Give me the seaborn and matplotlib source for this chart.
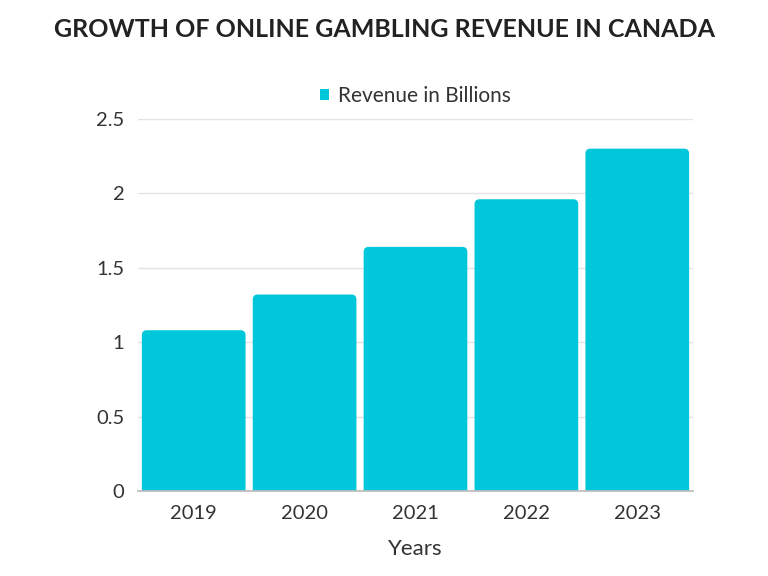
import pandas as pd
import matplotlib.pyplot as plt
import seaborn as sns
from matplotlib.patches import FancyBboxPatch, Patch

# data
years = ['2019', '2020', '2021', '2022', '2023']
revenue = [1.08, 1.32, 1.64, 1.96, 2.30]
series_name = 'Revenue in Billions'
bar_color = '#00C8DA'

df = pd.DataFrame({'Years': years, 'Revenue': revenue})

sns.set_theme(style='white')
plt.rcParams['font.family'] = ['Lato', 'DejaVu Sans']

fig = plt.figure(figsize=(7.68, 5.76), dpi=100)
ax = fig.add_axes([0.18, 0.1476, 0.722, 0.646])

sns.barplot(data=df, x='Years', y='Revenue', color=bar_color, saturation=1,
            width=0.935, ax=ax, zorder=3)

ax.set_ylim(0, 2.5)
ax.set_xlim(-0.5, 4.5)

# rounded top corners: swap each bar for a rounded box, bottom clipped by the axis
aspect = (2.5 / 372) / (5 / 554)
for p in list(ax.patches):
    x, w, h = p.get_x(), p.get_width(), p.get_height()
    box = FancyBboxPatch((x, -0.1), w, h + 0.1,
                         boxstyle='round,pad=0,rounding_size=0.045',
                         mutation_aspect=aspect, facecolor=bar_color,
                         edgecolor='none', zorder=3)
    ax.add_patch(box)
    p.set_visible(False)

ax.set_yticks([0, 0.5, 1, 1.5, 2, 2.5])
ax.set_yticklabels(['0', '0.5', '1', '1.5', '2', '2.5'])
ax.yaxis.grid(True, color='#e3e3e3', linewidth=1, zorder=0)

for s in ['top', 'right', 'left']:
    ax.spines[s].set_visible(False)
ax.spines['bottom'].set_color('#bdbdbd')
ax.spines['bottom'].set_zorder(4)
ax.tick_params(axis='both', length=0, labelsize=14.5, colors='#333333', pad=10)

ax.set_xlabel('Years', fontsize=16, color='#333333', labelpad=12)
ax.set_ylabel('')

handle = Patch(facecolor=bar_color, edgecolor='none')
ax.legend([handle], [series_name], loc='lower center', bbox_to_anchor=(0.5, 0.985),
          frameon=False, fontsize=15, handlelength=0.45, handleheight=0.45,
          handletextpad=0.45, labelcolor='#333333')

fig.suptitle('GROWTH OF ONLINE GAMBLING REVENUE IN CANADA', x=0.5, y=0.968,
             fontsize=18, fontweight='bold', color='#222222')

fig.savefig('out.png', dpi=100, facecolor='white')
